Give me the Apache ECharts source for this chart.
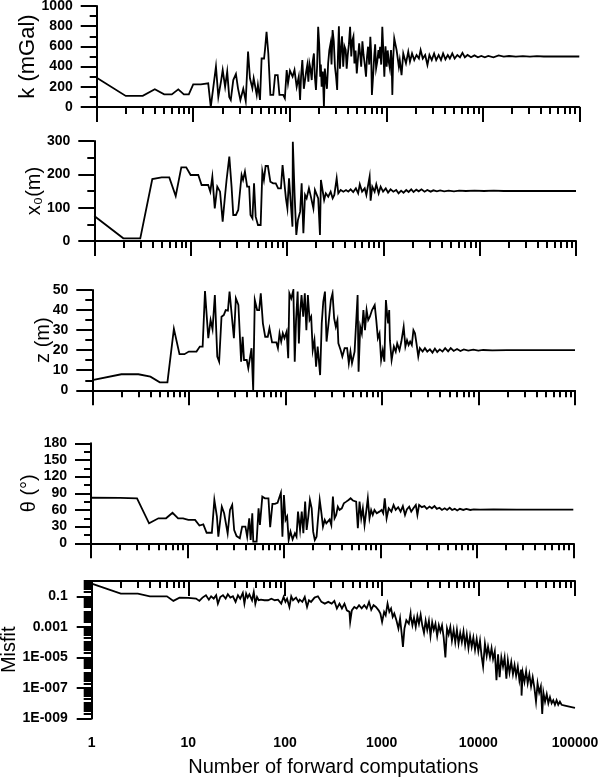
<!DOCTYPE html>
<html><head><meta charset="utf-8">
<script src="https://cdn.jsdelivr.net/npm/echarts@6/dist/echarts.min.js"></script>
<style>html,body{margin:0;padding:0;background:#fff}#c{width:600px;height:782px}</style>
</head><body><div id="c"></div>
<script>
// [forward computation number, value]
const kData = [[1,290],[2,110],[3,110],[4,175],[5,125],[6,125],[7,175],[8,125],[9,125],[10,224],[12,224],[14.3,234],[15.2,0],[17.2,400],[18.2,100],[19.5,267],[20.2,366],[21.4,200],[22.5,350],[23.6,100],[24.5,70],[26,267],[27.7,327],[29.1,185],[30.8,70],[33,180],[35,60],[37,550],[38.7,285],[41,185],[42.3,285],[45.5,120],[46.8,218],[49.2,70],[51.1,480],[54.2,480],[55.4,565],[57.5,745],[60,530],[63,120],[67.5,120],[70.5,316],[75,316],[78.2,120],[85.5,120],[89,86],[93,366],[96,234],[100.5,360],[107,300],[112,366],[118,200],[124,300],
[128,70],[131,300],[135,465],[140,180],[144,267],[148,350],[152,416],[156,250],[160,432],[164,380],[169,267],[173,450],[178,530],[182,300],[187,168],[192,400],[197,795],[202,620],[207,300],[210,420],[214,200],[220,350],[226,0],[231,380],[237,267],[243,180],[250,432],[257,560],[265,630],[271,420],[278,762],[286,650],[294,400],[302,300],[310,168],[316,520],[323,800],[331,380],[339,564],[348,700],[358,400],[369,600],[380,564],[389,380],[399,515],[410,620],[422,795],[434,500],[446,663],[457,700],[468,432],[481,560],[495,333],[509,480],[524,630],[537,520],[550,400],[566,650],[582,515],[599,420],[617,300],[632,500],[648,597],[666,420],[684,696],[697,540],[710,120],[730,300],[750,500],[767,620],[785,383],[807,450],[830,564],[846,480],[863,597],[886,420],[910,795],[932,560],[955,300],[982,600],[1010,400],[1035,560],[1060,449],[1090,380],[1120,564],[1138,420],[1156,120],[1180,480],[1210,680],[1280,564],[1350,400],[1380,465],[1440,316],[1500,530],[1600,432],[1690,548],[1760,449],[1850,530],[1950,465],[2060,515],[2180,480],[2270,564],[2390,480],[2530,515],[2670,416],[2800,515],[2960,465],[3130,530],[3290,465],[3490,515],[3690,465],[3880,530],[4100,472],[4340,515],[4560,480],[4830,530],[5110,480],[5450,515],[5810,492],[6160,536],[6520,492],[6960,515],[7550,492],[8200,511],[8900,492],[9650,505],[10500,492],[11400,505],[12900,492],[14600,511],[16500,498],[18700,505],[22000,498],[26000,503],[30800,498],[36300,503],[42800,500],[54600,502],[69500,500],[88400,502],[100000,500]];

const x0Data = [[1,75],[2,8],[3,8],[4,186],[5,191],[6,191],[7,135],[8,221],[9,221],[10,198],[12,198],[13,168],[15.2,168],[16,148],[16.8,193],[17.8,98],[18.9,163],[20.2,148],[21.5,58],[22.7,133],[23.6,183],[25.2,253],[26.6,163],[27.7,78],[29.5,78],[31.2,93],[32.4,93],[33.8,198],[35,183],[36.6,208],[38.6,163],[40.5,163],[41.8,78],[43.8,68],[45.5,173],[47.3,73],[50,48],[53.3,48],[55.5,208],[57.6,183],[60,225],[63.4,225],[67.2,178],[71.8,173],[76.5,173],[81,158],[86.5,158],[90,228],[93.5,228],[97.5,128],[101,98],[105,188],[109,121],[114,43],[115,298],[120,138],[125,18],[130,63],
[137,88],[142,173],[148,23],[154,138],[160,128],[169,158],[177,133],[188,98],[195,153],[203,158],[211,128],[220,18],[225,183],[234,188],[243,123],[253,143],[268,133],[284,148],[298,128],[310,138],[328,188],[341,143],[361,153],[385,148],[410,153],[433,148],[458,155],[487,147],[519,158],[548,143],[570,170],[602,148],[641,158],[667,138],[693,143],[721,193],[738,121],[768,163],[812,148],[845,170],[894,143],[938,163],[994,148],[1060,158],[1120,145],[1190,155],[1270,148],[1360,153],[1440,143],[1530,151],[1620,145],[1730,153],[1830,147],[1950,155],[2060,147],[2200,154],[2330,149],[2490,155],[2680,148],[2860,153],[3100,148],[3310,152],[3600,149],[3890,152],[4280,149],[4770,151],[5410,149],[6120,151],[7180,150],[8840,151],[11100,150],[14000,151],[17700,150],[31000,150],[58000,150],[100000,150]];

const zData = [[1,5.1],[2,8],[3,8],[4,6.8],[5,4],[6,4],[7,30.6],[8,18],[9,18],[10,19.3],[12,19.3],[13,21.8],[13.9,21.8],[14.7,49.5],[15.9,26],[16.8,35],[17.6,30.4],[18.6,47.5],[19.7,16.8],[20.6,14.3],[21.8,36.7],[23,37.5],[24.1,40],[25.4,39.7],[26.4,49.2],[27.5,49.2],[29.3,26],[30.7,45.8],[32.6,42.5],[33.9,42.5],[34.8,14.3],[36.1,26.7],[37.3,15.1],[39.8,15.1],[41.3,11],[42.9,11],[44.6,21],[46.4,0],[48.2,45],[51,40],[53.5,40],[55.6,48.3],[58.5,33.4],[61.8,26.7],[65.7,26.7],[68.4,30.9],[71.2,30.9],[72.8,23.9],[80.6,23.9],[83.7,21],[87,28.4],[90.5,24.3],[94,28.4],[97.8,26],[103,29.2],[107,16],[110,48.3],[115,45.8],[121,50],[125,14.3],[129,35],[134,49.2],[138,23.4],
[142,38.4],[147,47.5],[153,36.7],[159,48.3],[165,30],[171,47.5],[178,35],[185,36.7],[192,20],[200,25],[208,11.8],[216,21.8],[229,7.6],[238,33.4],[247,44.2],[257,49.2],[267,24.3],[280,33.4],[296,45],[308,48.3],[320,35.9],[333,31.7],[346,35],[354,23.4],[374,20],[389,16.8],[411,21],[436,21],[454,13.5],[472,19.3],[490,13.5],[521,19.3],[538,20],[560,47.5],[573,9.3],[596,31.7],[619,28.4],[643,40],[668,30],[694,40],[721,35],[750,36.7],[790,40],[842,42.5],[874,35],[908,26],[944,28.4],[981,15.1],[1020,20],[1060,14.3],[1100,45],[1130,38.4],[1160,33.4],[1190,40],[1210,25],[1260,15.1],[1330,21.8],[1390,19.3],[1440,23.4],[1520,20],[1590,24.3],[1680,31.7],[1750,21.8],[1820,25],[1890,22.6],[1960,24.3],[2040,22.6],[2120,30],[2200,28.4],[2280,23.4],[2380,16.8],[2470,21],[2640,19.3],[2790,21],[2950,19.3],[3140,20.4],[3340,18.8],[3540,20.8],[3740,19.1],[3980,20.4],[4240,19.3],[4520,21],[4850,19.4],[5160,21],[5540,19.6],[6000,20.6],[6500,19.6],[7050,20.4],[7840,19.8],[8850,20.3],[9970,19.8],[11200,20.1],[13900,19.9],[19700,20],[37400,20],[100000,20]];

const thetaData = [[1,82],[2,81.6],[3,81],[4,36],[5,45],[6,45],[7,55],[8,45],[9,45],[10.2,42],[12,42],[13.3,32],[14.6,34],[15.8,19],[17.9,19],[19,78],[20.2,48],[20.9,12],[22.7,66],[24,54],[25.1,51],[26.1,18],[27.6,60],[29.1,69],[30.5,24],[32.3,13],[34.9,9],[36.9,30],[39.9,30],[41.6,12],[43.7,45],[45.2,6],[47,54],[48.1,3],[52.1,3],[54.6,63],[56.4,33],[59.7,84],[63.6,81],[69.1,81],[72,29],[76,71],[80.6,71],[85.9,73],[89,75],[93,91],[96.5,12],[100,87],[104,42],[108,48],[112,6],[117,21],[123,7],[130,18],[135,12],[140,57],
[147,24],[153,57],[159,18],[166,75],[172,24],[179,48],[186,78],[194,63],[201,21],[209,6],[218,12],[226,45],[235,78],[245,54],[254,30],[265,42],[275,36],[298,43],[310,33],[322,84],[335,45],[348,51],[362,66],[377,60],[398,63],[418,72],[443,75],[468,78],[491,81],[519,77],[540,78],[561,75],[584,27],[608,75],[633,45],[658,63],[685,33],[713,57],[741,81],[771,45],[802,60],[834,51],[868,60],[917,54],[977,57],[1030,60],[1070,54],[1110,81],[1160,45],[1220,63],[1300,57],[1370,69],[1440,60],[1530,65],[1620,57],[1710,67],[1800,51],[1880,61],[1990,66],[2090,57],[2200,63],[2330,69],[2420,51],[2520,69],[2690,65],[2860,67],[3030,62],[3230,66],[3420,63],[3640,67],[3850,62],[4100,64],[4350,60],[4640,63],[4910,60],[5230,64],[5540,60],[5900,62],[6260,59],[6670,62],[7240,60],[7780,62],[8550,60],[9270,61],[10800,60.6],[14900,61],[26000,60.6],[100000,60.6]];

const misfitData = [[1,0.68],[2,0.15],[3,0.15],[4,0.1],[6,0.1],[7,0.05],[8.1,0.082],[10,0.078],[12,0.071],[13,0.05],[14,0.082],[15.2,0.117],[16.3,0.06],[17.2,0.1],[18.3,0.07],[19.4,0.117],[20.2,0.033],[21.4,0.09],[22.8,0.117],[24.3,0.07],[25.6,0.135],[27.2,0.082],[28.9,0.1],[30.8,0.043],[32.6,0.117],[34.4,0.07],[36.6,0.165],[38,0.033],[39.6,0.15],[41.1,0.082],[42.8,0.135],[45.6,0.055],[47.5,0.19],[49.3,0.033],[51.3,0.09],[53.4,0.055],[56.4,0.06],[61.1,0.055],[66.7,0.055],[72.3,0.07],[78.3,0.055],[84.6,0.06],[91.4,0.033],[96.7,0.09],[101,0.043],[105,0.07],[111,0.02],[116,0.1],[121,0.055],[130,0.082],[138,0.043],
[142,0.06],[151,0.043],[160,0.09],[169,0.02],[177,0.055],[186,0.043],[202,0.082],[219,0.1],[238,0.043],[258,0.033],[280,0.043],[304,0.033],[324,0.05],[344,0.016],[366,0.033],[388,0.016],[412,0.033],[436,0.012],[464,0.0095],[472,0.0021],[491,0.012],[521,0.02],[551,0.016],[583,0.026],[621,0.016],[661,0.026],[699,0.016],[740,0.043],[780,0.013],[824,0.026],[872,0.02],[930,0.012],[970,0.0074],[1010,0.0021],[1060,0.0095],[1100,0.0057],[1150,0.033],[1200,0.0095],[1250,0.016],[1300,0.0045],[1350,0.0074],[1420,0.0027],[1490,0.00078],[1550,0.0035],[1610,0.00036],[1660,0.000049],[1720,0.00078],[1800,0.0027],[1910,0.0016],[1990,0.0074],
[2000,5.0e-3],[2080,1.26e-3],[2160,3.98e-3],[2250,1e-3],[2340,5.0e-3],[2430,1.58e-3],[2530,6.31e-3],[2630,1.26e-3],[2740,3.98e-4],[2850,2.51e-3],[2960,6.31e-4],[3080,2.51e-3],[3200,2.51e-4],[3330,2.0e-3],[3460,6.31e-4],[3600,1.58e-3],[3750,2.51e-4],[3900,1.26e-3],[4050,5.0e-4],[4210,1.26e-3],[4380,2.0e-4],[4560,1e-5],[4740,7.94e-4],[4930,3.16e-4],[5130,1e-3],[5330,1.26e-4],[5550,6.31e-4],[5770,1e-4],[6000,6.31e-4],[6240,7.94e-5],[6490,3.98e-4],[6750,1e-4],[7020,5.0e-4],[7300,6.31e-5],[7590,3.16e-4],[7900,3.98e-5],[8210,2.51e-4],[8540,5.0e-5],[8880,2.0e-4],[9240,3.16e-5],[9610,1.58e-4],[10000,2.51e-5],[10400,1.26e-4],[10800,1.26e-5],[11200,2.51e-6],[11700,7.94e-5],[12200,1.26e-5],[12600,5.0e-5],[13200,1e-5],[13700,3.98e-5],[14200,7.94e-6],[14800,2.51e-5],[15400,3.16e-7],[16000,1.58e-5],[16600,5.0e-7],[17300,1e-5],[18000,2.51e-6],[18700,1e-5],[19500,3.98e-7],[20200,6.31e-6],[21000,1e-6],[21900,5.0e-6],[22800,7.94e-7],[23700,3.16e-6],[24600,6.31e-7],[25600,2.51e-6],[26600,3.16e-7],[27700,1.58e-6],[28000,3.16e-8],[28800,1e-6],[30000,2.51e-7],[31200,1.26e-6],[32400,2.0e-7],[33700,7.94e-7],[35100,1.26e-7],[36500,5.0e-7],[38000,1e-7],[39500,1.26e-8],[41000,2.0e-7],[42600,5.0e-8],[44300,1.26e-7],[45800,2.0e-9],[47100,5.0e-8],[49000,1.26e-8],[51000,3.98e-8],[53000,1e-8],[55100,2.51e-8],[57300,1e-8],[59600,1.58e-8],[62000,7.94e-9],[64500,1.58e-8],[67100,7.94e-9],[69800,1.26e-8],[72600,7.94e-9],[75500,1e-8],[78500,7.08e-9],[81700,8.91e-9],[85000,6.31e-9],[88400,7.08e-9],[92000,5.62e-9],[95700,6.03e-9],[100000,5.0e-9]];

const xTickLabels = ['1','10','100','1000','10000','100000'];
const misfitLabelExp = [-9,-7,-5,-3,-1];
const misfitLabels = ['1E-009','1E-007','1E-005','0.001','0.1'];
const yNames = ['k (mGal)','x\u2080(m)','z (m)','\u03b8 (\u00b0)','Misfit'];
const xName = 'Number of forward computations';
const minorMultipliers = [2,3,4,5,6,7,8,9];

const FONT = '"Liberation Sans", Arial, Helvetica, sans-serif';
const BLACK = '#000';

const panels = [
  {data:kData,      left:96.7, width:482.6, top:6,     height:101,   min:0, max:1000, interval:200, nameGap:58, nameSize:22},
  {data:x0Data,     left:94.3, width:481.7, top:141,   height:100,   min:0, max:300,  interval:100, nameGap:50, nameSize:20},
  {data:zData,      left:92.3, width:482.7, top:290,   height:100.3, min:0, max:50,   interval:10,  nameGap:39, nameSize:20},
  {data:thetaData,  left:91,   width:482.3, top:443.3, height:100,   min:0, max:180,  interval:30,  nameGap:52, nameSize:20},
  {data:misfitData, left:91.7, width:483.3, top:581,   height:137.5, nameGap:72, nameSize:20}
];

// minor tick positions expressed in decades (log10 space)
const minorX = [];
for (let k = 0; k < 5; k++) minorMultipliers.forEach(m => minorX.push(k + Math.log10(m)));
const minorY = [];
for (let k = -9; k < 0; k++) {
  minorMultipliers.forEach(m => minorY.push(k + Math.log10(m)));
  if (misfitLabelExp.indexOf(k) < 0) minorY.push(k);
}
minorY.push(0);

const labelStyle = {color:BLACK, fontFamily:FONT, fontWeight:'bold', fontSize:14};
const nameStyle = s => ({color:BLACK, fontFamily:FONT, fontWeight:'normal', fontSize:s});
const lineSt = w => ({color:BLACK, width:w});

const grid = [], xAxis = [], yAxis = [], series = [];
panels.forEach((p, i) => {
  grid.push({left:p.left, top:p.top, width:p.width, height:p.height, containLabel:false, outerBoundsMode:'none'});
  const isLast = i === panels.length - 1;
  const xMain = xAxis.length;
  xAxis.push({
    type:'log', logBase:10, gridIndex:i, min:1, max:100000, position:'bottom',
    axisLine:{show:true, lineStyle:lineSt(2)},
    axisTick:{show:true, inside:false, length:15, lineStyle:lineSt(2)},
    axisLabel:Object.assign({show:isLast, margin:18,
      formatter:v => xTickLabels[Math.round(Math.log10(v))]}, labelStyle),
    splitLine:{show:false},
    name:isLast ? xName : '', nameLocation:'middle', nameGap:39, nameMoveOverlap:false,
    nameTextStyle:nameStyle(20)
  });
  xAxis.push({
    type:'value', gridIndex:i, min:0, max:5, position:'bottom',
    axisLine:{show:false},
    axisTick:{show:true, inside:false, length:7, customValues:minorX, lineStyle:lineSt(2)},
    axisLabel:{show:false}, splitLine:{show:false}
  });
  const yMain = yAxis.length;
  if (!isLast) {
    yAxis.push({
      type:'value', gridIndex:i, min:p.min, max:p.max, interval:p.interval, position:'left',
      axisLine:{show:true, lineStyle:lineSt(2)},
      axisTick:{show:true, inside:false, length:16, lineStyle:lineSt(2)},
      minorTick:{show:true, splitNumber:2, length:7, lineStyle:lineSt(2)},
      axisLabel:Object.assign({show:true, margin:24, formatter:v => String(v)}, labelStyle),
      splitLine:{show:false}, minorSplitLine:{show:false},
      name:yNames[i], nameLocation:'middle', nameGap:p.nameGap, nameMoveOverlap:false,
      nameTextStyle:nameStyle(p.nameSize)
    });
  } else {
    yAxis.push({
      type:'log', logBase:10, gridIndex:i, min:1e-9, max:1, position:'left',
      axisLine:{show:true, lineStyle:lineSt(2)},
      axisTick:{show:false}, axisLabel:{show:false}, splitLine:{show:false},
      name:yNames[i], nameLocation:'middle', nameGap:p.nameGap, nameMoveOverlap:false,
      nameTextStyle:nameStyle(p.nameSize)
    });
    yAxis.push({
      type:'value', gridIndex:i, min:-9, max:0, position:'left',
      axisLine:{show:false},
      axisTick:{show:true, inside:false, length:15, customValues:misfitLabelExp, lineStyle:lineSt(2)},
      axisLabel:Object.assign({show:true, margin:24, customValues:misfitLabelExp,
        formatter:v => misfitLabels[misfitLabelExp.indexOf(Math.round(v))]}, labelStyle),
      splitLine:{show:false}
    });
    yAxis.push({
      type:'value', gridIndex:i, min:-9, max:0, position:'left',
      axisLine:{show:false},
      axisTick:{show:true, inside:false, length:8, customValues:minorY, lineStyle:lineSt(2)},
      axisLabel:{show:false}, splitLine:{show:false}
    });
  }
  series.push({
    type:'line', xAxisIndex:xMain, yAxisIndex:yMain, data:p.data,
    showSymbol:false, symbol:'none', silent:true,
    lineStyle:{color:BLACK, width:1.8, join:'miter'}
  });
});

const chart = echarts.init(document.getElementById('c'), null, {renderer:'canvas'});
chart.setOption({animation:false, backgroundColor:'#fff', grid, xAxis, yAxis, series});
</script>
</body></html>
